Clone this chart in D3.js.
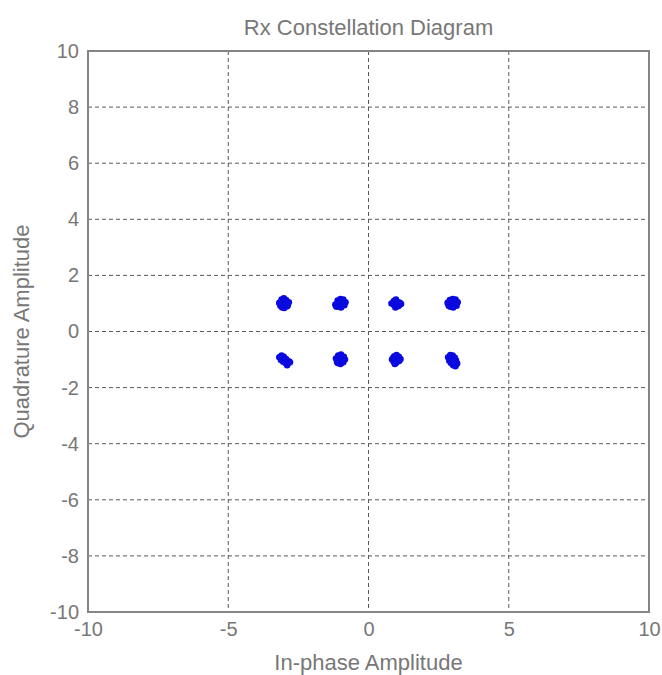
<!DOCTYPE html>
<html lang="en">
  <head>
    <meta charset="utf-8" />
    <title>Rx Constellation Diagram</title>
    <script src="https://d3js.org/d3.v7.min.js"></script>
    <style type="text/css">
      body {
        margin: 0;
        background: #fff;
      }
      text {
        font-family: "Liberation Sans", Arial, sans-serif;
        fill: #777;
      }
      .grid line {
        stroke: #5a5a5a;
        stroke-width: 1;
        stroke-dasharray: 4, 3;
      }
    </style>
  </head>
  <body>
    <script type="text/javascript">
      // axis ticks
      var xTicks = [-10, -5, 0, 5, 10];
      var yTicks = [-10, -8, -6, -4, -2, 0, 2, 4, 6, 8, 10];

      // received symbols (in-phase / quadrature)
      var rxI = [
        -3.18, -3.10, -3.02, -2.94, -2.84, -3.14, -3.06, -2.98, -2.88, -3.16, -3.00, -2.90, -3.08, -2.96,
        -1.18, -1.10, -1.00, -0.90, -0.82, -1.14, -1.04, -0.96, -0.86, -1.08, -0.98, -0.92, -1.16, -1.02,
        0.82, 0.90, 0.98, 1.06, 1.16, 0.92, 1.00, 1.08, 0.96, 1.04, 1.12, 0.88, 1.00, 0.94,
        2.82, 2.90, 3.00, 3.10, 3.18, 2.86, 2.96, 3.06, 3.14, 2.92, 3.02, 3.12, 3.04, 2.94,
        -3.18, -3.10, -3.02, -2.94, -2.84, -3.12, -3.04, -2.96, -2.88, -2.80, -3.06, -2.98, -2.90, -3.00,
        -1.16, -1.08, -0.98, -0.88, -0.84, -1.12, -1.02, -0.94, -1.10, -1.00, -0.90, -1.06, -0.96, -1.02,
        0.84, 0.92, 1.00, 1.08, 1.14, 0.90, 0.98, 1.06, 0.94, 1.02, 1.10, 0.88, 1.04, 0.98,
        2.84, 2.92, 3.00, 3.08, 2.88, 2.96, 3.04, 3.12, 3.16, 3.02, 3.10, 2.94, 3.06, 2.98
      ];
      var rxQ = [
        1.02, 1.14, 1.18, 1.12, 1.04, 0.92, 0.98, 1.06, 0.94, 1.00, 0.84, 0.90, 0.86, 1.00,
        0.96, 1.10, 1.16, 1.14, 1.04, 0.88, 1.02, 1.08, 0.94, 0.90, 0.86, 0.96, 0.92, 0.98,
        1.00, 1.08, 1.14, 1.04, 0.98, 0.94, 1.02, 0.92, 0.86, 0.90, 1.02, 0.98, 0.96, 1.10,
        1.02, 1.12, 1.16, 1.14, 1.04, 0.92, 1.06, 0.98, 0.92, 0.88, 0.86, 1.08, 1.00, 1.00,
        -0.92, -0.86, -0.90, -0.98, -1.06, -1.02, -1.08, -1.12, -1.14, -1.10, -0.96, -1.00, -1.20, -1.04,
        -0.96, -0.86, -0.82, -0.90, -1.00, -1.08, -1.04, -0.98, -1.12, -1.16, -1.10, -0.94, -1.04, -1.00,
        -1.00, -0.88, -0.84, -0.90, -0.98, -1.08, -1.12, -1.06, -1.16, -1.00, -1.04, -0.94, -0.96, -1.02,
        -0.92, -0.84, -0.86, -0.94, -1.04, -1.02, -1.08, -1.04, -1.14, -1.20, -1.24, -1.12, -1.16, -0.98
      ];

      var W = 662,
        H = 675;
      var margin = { top: 51, right: 13, bottom: 63, left: 88 };
      var width = W - margin.left - margin.right,
        height = H - margin.top - margin.bottom;

      var svg = d3
        .select("body")
        .append("svg")
        .attr("width", W)
        .attr("height", H);

      var g = svg
        .append("g")
        .attr("transform", "translate(" + margin.left + "," + margin.top + ")");

      var xScale = d3.scaleLinear().domain([-10, 10]).range([0, width]);
      var yScale = d3.scaleLinear().domain([-10, 10]).range([height, 0]);

      // dashed grid
      var grid = g.append("g").attr("class", "grid");
      grid
        .selectAll("line.v")
        .data(xTicks.slice(1, -1))
        .enter()
        .append("line")
        .attr("class", "v")
        .attr("x1", function (d) { return xScale(d); })
        .attr("x2", function (d) { return xScale(d); })
        .attr("y1", 0)
        .attr("y2", height);
      grid
        .selectAll("line.h")
        .data(yTicks.slice(1, -1))
        .enter()
        .append("line")
        .attr("class", "h")
        .attr("y1", function (d) { return yScale(d); })
        .attr("y2", function (d) { return yScale(d); })
        .attr("x1", 0)
        .attr("x2", width);

      // points
      g.selectAll("circle")
        .data(rxI)
        .enter()
        .append("circle")
        .attr("cx", function (d) { return xScale(d); })
        .attr("cy", function (d, i) { return yScale(rxQ[i]); })
        .attr("r", 3.3)
        .attr("fill", "#0a0ae0");

      // frame
      g.append("rect")
        .attr("width", width)
        .attr("height", height)
        .attr("fill", "none")
        .attr("stroke", "#858585")
        .attr("stroke-width", 2);

      // axes (labels only)
      var xAxis = d3.axisBottom(xScale).tickValues(xTicks).tickFormat(String).tickSize(0).tickPadding(10);
      var gx = g.append("g").attr("transform", "translate(0," + height + ")").call(xAxis);
      var yAxis = d3.axisLeft(yScale).tickValues(yTicks).tickFormat(String).tickSize(0).tickPadding(9);
      var gy = g.append("g").call(yAxis);
      [gx, gy].forEach(function (a) {
        a.select(".domain").remove();
        a.selectAll("text")
          .attr("fill", "#777")
          .style("font-size", "20px")
          .style("font-family", "'Liberation Sans', Arial, sans-serif");
      });
      gx.selectAll("text").attr("dy", "0.72em");

      // title and axis labels
      svg
        .append("text")
        .attr("x", margin.left + width / 2)
        .attr("y", 35)
        .attr("text-anchor", "middle")
        .style("font-size", "22px")
        .text("Rx Constellation Diagram");
      svg
        .append("text")
        .attr("x", margin.left + width / 2)
        .attr("y", 670)
        .attr("text-anchor", "middle")
        .style("font-size", "22px")
        .text("In-phase Amplitude");
      svg
        .append("text")
        .attr("transform", "translate(29," + (margin.top + height / 2) + ") rotate(-90)")
        .attr("text-anchor", "middle")
        .style("font-size", "22px")
        .text("Quadrature Amplitude");
    </script>
  </body>
</html>
